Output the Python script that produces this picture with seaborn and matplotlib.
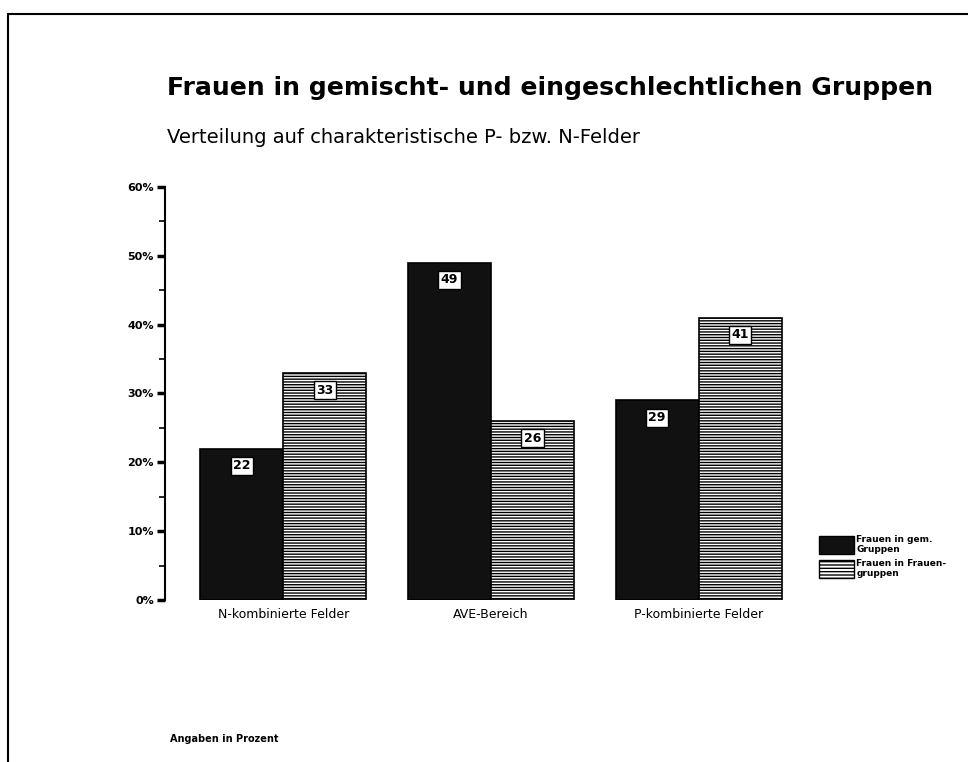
import matplotlib.pyplot as plt
import seaborn as sns
import pandas as pd
from matplotlib.lines import Line2D
from matplotlib.patches import Patch

categories = ['N-kombinierte Felder', 'AVE-Bereich', 'P-kombinierte Felder']
series = ['Frauen in gem.\nGruppen', 'Frauen in Frauen-\ngruppen']
gemischt = [22, 49, 29]
frauen = [33, 26, 41]
yticks = [0, 10, 20, 30, 40, 50, 60]

df = pd.DataFrame({
    'Feld': categories * 2,
    'Gruppe': [series[0]] * 3 + [series[1]] * 3,
    'Wert': gemischt + frauen,
})

sns.set_style('white')
plt.rcParams['font.family'] = ['DejaVu Sans']
plt.rcParams['hatch.linewidth'] = 1.0
plt.rcParams['text.color'] = 'black'
plt.rcParams['xtick.color'] = 'black'
plt.rcParams['ytick.color'] = 'black'

fig = plt.figure(figsize=(9.68, 7.62), dpi=100)
ax = fig.add_axes([0.1705, 0.2126, 0.6457, 0.542])

sns.barplot(data=df, x='Feld', y='Wert', hue='Gruppe', order=categories,
            hue_order=series, palette=['#111111', 'white'], width=0.8,
            edgecolor='black', linewidth=1.2, legend=False, ax=ax)

# hatching for the second series
for bar in ax.containers[1]:
    bar.set_hatch('------')

# value labels in white boxes just below the bar top
for cont, vals in zip(ax.containers, [gemischt, frauen]):
    for bar, v in zip(cont, vals):
        ax.text(bar.get_x() + bar.get_width() / 2, bar.get_height() - 2.5, str(v),
                ha='center', va='center', fontsize=9, fontweight='bold',
                bbox=dict(boxstyle='square,pad=0.2', fc='white', ec='black', lw=1))

ax.set_xlim(-0.57, 2.44)
ax.set_ylim(0, 60)
ax.set_yticks(yticks)
ax.set_yticklabels([f'{t}%' for t in yticks], fontsize=8, fontweight='bold')
ax.set_yticks(range(5, 60, 10), minor=True)
ax.tick_params(axis='y', which='major', direction='out', length=6, width=2.5, left=True, pad=2)
ax.tick_params(axis='y', which='minor', direction='out', length=4, width=1.2, left=True)
ax.tick_params(axis='x', length=0, labelsize=9, pad=6)
ax.set_xlabel('')
ax.set_ylabel('')
for s in ['top', 'right', 'bottom']:
    ax.spines[s].set_visible(False)
ax.spines['left'].set_linewidth(1.5)
ax.spines['left'].set_color('black')

handles = [Patch(facecolor='#111111', edgecolor='black', label=series[0]),
           Patch(facecolor='white', edgecolor='black', hatch='-----', label=series[1])]
fig.legend(handles=handles, loc='center left', bbox_to_anchor=(0.838, 0.27),
           frameon=False, handlelength=3.8, handleheight=2.6,
           labelspacing=0.5, handletextpad=0.3, prop={'weight': 'bold', 'size': 6.5})

fig.text(0.1725, 0.884, 'Frauen in gemischt- und eingeschlechtlichen Gruppen',
         fontsize=18.1, fontweight='bold', va='center')
fig.text(0.1725, 0.82, 'Verteilung auf charakteristische P- bzw. N-Felder',
         fontsize=14, va='center')
fig.text(0.1755, 0.03, 'Angaben in Prozent', fontsize=7, fontweight='bold', va='center')

# page border (top and left)
fig.add_artist(Line2D([0.008, 1.0], [0.982, 0.982], color='black', lw=1.5))
fig.add_artist(Line2D([0.008, 0.008], [0.0, 0.982], color='black', lw=1.5))

plt.savefig('out.png', dpi=100)
